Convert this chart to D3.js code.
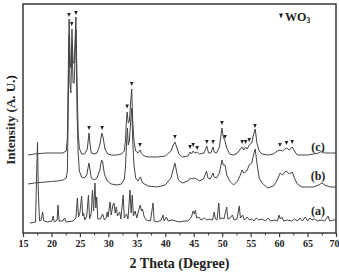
<!DOCTYPE html>
<html><head><meta charset="utf-8">
<script src="https://cdn.jsdelivr.net/npm/d3@7"></script>
<style>html,body{margin:0;padding:0;background:#fff;}svg{display:block;}</style>
</head><body>
<svg id="chart" width="339" height="273"></svg>
<script>
// ---- data (2θ in degrees, intensity in arbitrary units) ----
const curveA = [[16.2,10],[16.8,10.5],[17.2,11],[17.4,60],[17.55,91],[17.7,40],[17.9,12],[18.2,13],[18.45,21],[18.65,12],[19.3,11],[20.1,12],[20.3,17],[20.5,11],[21.0,13],[21.15,28],[21.35,12],[22.0,12],[22.3,15],[22.6,11],[23.8,12],[24.3,15],[24.55,35],[24.75,16],[25.0,20],[25.3,37],[25.5,17],[25.65,20],[25.85,13],[26.2,17],[26.5,38],[26.7,14],[27.0,20],[27.2,43],[27.4,22],[27.65,50],[27.8,25],[27.95,36],[28.15,14],[28.6,14],[29.0,19],[29.3,13],[29.6,15],[29.8,21],[29.95,16],[30.3,31],[30.5,18],[30.8,28],[31.0,30],[31.2,20],[31.4,26],[31.6,17],[32.0,21],[32.2,14],[32.6,38],[32.8,15],[33.2,19],[33.45,14],[33.8,43],[34.0,20],[34.2,38],[34.4,17],[34.7,22],[35.0,15],[35.4,24],[35.6,28],[35.8,22],[36.0,24],[36.3,16],[36.7,13],[37.4,12],[37.85,30],[38.05,12],[38.6,11],[39.3,13],[39.6,18],[39.8,12],[40.2,16],[40.5,12],[41.2,13],[41.8,12],[42.5,11],[43.3,12],[44.0,12],[44.6,16],[44.9,22],[45.1,19],[45.3,23],[45.5,15],[45.9,16],[46.3,13],[46.9,15],[47.3,13],[47.8,14],[48.3,13],[48.6,21],[48.8,14],[49.1,13],[49.4,30],[49.6,14],[50.0,15],[50.3,14],[50.8,26],[51.0,14],[51.4,15],[51.8,18],[52.1,13],[52.6,14],[53.0,27],[53.2,15],[53.6,18],[53.9,13],[54.4,16],[54.8,13],[55.2,14],[55.6,12],[56.0,15],[56.4,13],[57.0,14],[57.6,12],[58.1,15],[58.5,12],[59.2,13],[59.7,12],[60.0,18],[60.2,14],[60.5,16],[60.8,12],[61.5,13],[62.2,12],[62.7,14],[63.2,12],[63.7,15],[64.1,12],[64.6,16],[65.0,12],[65.4,15],[65.8,13],[66.2,14],[66.8,12],[67.4,13],[68.0,12],[68.6,17],[68.9,12],[69.5,13],[70.0,13]];

const curveB = [[15.9,49],[17.0,50],[18.0,50.5],[19.0,51],[20.0,51.5],[21.0,52],[22.0,53],[22.6,55],[22.8,62],[22.95,120],[23.1,198],[23.25,150],[23.4,140],[23.6,188],[23.8,150],[24.0,150],[24.3,203],[24.5,120],[24.7,80],[24.9,62],[25.3,56],[25.8,55],[26.2,58],[26.45,66],[26.6,70],[26.75,64],[27.0,55],[27.5,53],[28.0,55],[28.5,63],[28.8,73],[29.0,71],[29.3,59],[29.8,52],[30.5,49],[31.5,48],[32.3,49],[32.8,54],[33.0,65],[33.2,90],[33.35,105],[33.5,88],[33.7,92],[33.9,110],[34.1,125],[34.3,90],[34.5,68],[34.8,55],[35.2,52],[35.5,55],[35.65,56],[36.0,50],[37.0,47],[38.6,46],[40.0,48],[41.0,55],[41.5,66],[41.7,70],[41.9,64],[42.3,53],[43.0,50],[44.0,52],[44.4,55],[44.7,54],[45.0,55],[45.5,54],[46.0,52],[46.7,54],[47.0,58],[47.25,62],[47.5,55],[47.9,54],[48.4,60],[48.6,56],[49.0,55],[49.5,60],[49.8,68],[49.95,73],[50.2,68],[50.5,68],[50.8,58],[51.3,52],[52.0,48],[52.7,52],[53.2,58],[53.5,63],[53.8,60],[54.1,61],[54.4,63],[54.75,68],[55.2,70],[55.5,78],[55.8,84],[56.1,70],[56.5,55],[57.0,50],[58.0,45],[59.0,47],[59.6,52],[60.2,60],[60.6,58],[61.0,61],[61.3,62],[61.8,59],[62.3,61],[62.7,55],[63.2,49],[64.0,46],[65.0,46],[66.0,46],[67.0,48],[67.5,50],[68.0,48],[69.0,46],[70.0,46]];

const curveC = [[15.9,78],[17.0,79],[18.0,79.5],[19.0,80],[20.0,80],[21.0,80],[22.0,80],[22.6,82],[22.8,95],[22.95,160],[23.1,214],[23.3,170],[23.45,165],[23.6,204],[23.8,170],[24.0,170],[24.3,216],[24.5,150],[24.7,100],[24.9,85],[25.3,79],[25.8,79],[26.3,84],[26.5,95],[26.6,100],[26.75,90],[27.0,80],[27.5,79],[28.0,80],[28.5,88],[28.85,100],[29.1,95],[29.4,84],[29.9,79],[30.5,78],[31.5,78],[32.3,79],[32.8,82],[33.0,92],[33.15,110],[33.3,121],[33.5,110],[33.7,112],[33.9,130],[34.1,144],[34.3,110],[34.5,92],[34.8,82],[35.2,80],[35.45,82],[35.6,83],[35.8,80],[36.3,77],[37.0,76],[38.6,76],[40.0,77],[41.0,82],[41.4,88],[41.7,91],[42.0,86],[42.4,79],[43.0,76],[44.0,77],[44.35,81],[44.6,79],[44.9,82],[45.2,80],[45.6,81],[46.0,79],[46.8,80],[47.1,84],[47.3,87],[47.6,80],[48.0,80],[48.4,86],[48.6,81],[49.0,80],[49.5,86],[49.8,98],[49.95,105],[50.2,96],[50.5,92],[50.8,85],[51.3,79],[52.0,78],[52.7,80],[53.2,84],[53.5,86],[53.8,83],[54.1,86],[54.4,84],[54.75,88],[55.2,90],[55.5,98],[55.8,104],[56.1,90],[56.5,82],[57.0,79],[58.0,78],[59.0,79],[59.7,82],[60.15,83],[60.6,82],[61.0,84],[61.3,85],[61.8,83],[62.3,86],[62.7,82],[63.2,78],[64.0,78],[65.0,78],[66.0,79],[67.0,80],[67.5,82],[68.0,80],[69.0,80],[70.0,80]];

// WO3 reflection markers: [2θ, intensity level of marker]
const markersWO3 = [[23.08,218],[23.56,209],[24.3,220],[26.6,105],[28.9,105],[33.3,126.5],[34.1,149],[35.56,88],[41.7,96],[44.35,86],[44.9,88],[45.6,85],[47.3,91],[48.4,91],[49.96,110],[50.5,96],[53.5,91],[54.1,91],[54.75,93],[55.76,107],[60.15,88],[61.3,90],[62.3,91]];

const seriesNames = ["(a)", "(b)", "(c)"];
const seriesLabelLevel = [22, 57, 86]; // intensity level of each label
const xTicks = [15,20,25,30,35,40,45,50,55,60,65,70];
const xMinorTicks = [17.5,22.5,27.5,32.5,37.5,42.5,47.5,52.5,57.5,62.5,67.5];
const xTitle = "2 Theta (Degree)";
const yTitle = "Intensity (A. U.)";
const legendText = "WO";
const legendSub = "3";

// ---- drawing ----
const svg = d3.select("#chart");
const L = 23, R = 336, T = 4, B = 233;
const x = d3.scaleLinear().domain([15,70]).range([L,R]);
const y = d3.scaleLinear().domain([0,229]).range([B,T]);
const ink = "#3a3a3a";
const font = "'Liberation Serif','Times New Roman',serif";

const line = d3.line().x(d=>x(d[0])).y(d=>y(d[1]));
[curveA, curveB, curveC].forEach(c=>{
  svg.append("path").datum(c).attr("d", line)
    .attr("fill","none").attr("stroke","#444").attr("stroke-width",1)
    .attr("stroke-linejoin","round");
});

// markers (inverted triangles)
svg.append("g").selectAll("path").data(markersWO3).join("path")
  .attr("d", d=>{const cx=x(d[0]), cy=y(d[1]); return `M${cx-1.8},${cy-2}L${cx+1.8},${cy-2}L${cx},${cy+2}Z`;})
  .attr("fill","#222");

// frame
svg.append("rect").attr("x",L).attr("y",T).attr("width",R-L).attr("height",B-T)
  .attr("fill","none").attr("stroke",ink).attr("stroke-width",1.5);

// x axis
const xAxis = d3.axisBottom(x).tickValues(xTicks).tickSize(4).tickFormat(d3.format("d"));
const gx = svg.append("g").attr("transform",`translate(0,${B})`).call(xAxis);
gx.select(".domain").remove();
gx.selectAll(".tick line").attr("stroke",ink).attr("stroke-width",1.2);
gx.selectAll(".tick text").attr("font-family",font).attr("font-weight","bold")
  .attr("font-size",10).attr("fill","#222").attr("dy","0.9em").attr("y",5)
  .attr("text-anchor", d=> d===70 ? "end" : "middle")
  .attr("dx", d=> d===70 ? 3 : 0);
const gm = svg.append("g").attr("transform",`translate(0,${B})`)
  .call(d3.axisBottom(x).tickValues(xMinorTicks).tickSize(2.5).tickFormat(""));
gm.select(".domain").remove();
gm.selectAll(".tick line").attr("stroke",ink).attr("stroke-width",1);

// titles
svg.append("text").attr("x",(L+R)/2+0).attr("y",268).attr("text-anchor","middle")
  .attr("font-family",font).attr("font-weight","bold").attr("font-size",14).attr("fill","#222").text(xTitle);
svg.append("text").attr("transform","translate(15,120) rotate(-90)").attr("text-anchor","middle")
  .attr("font-family",font).attr("font-weight","bold").attr("font-size",13).attr("fill","#222").text(yTitle);

// series labels
svg.append("g").selectAll("text").data(seriesNames).join("text")
  .attr("x",318).attr("y",(d,i)=>y(seriesLabelLevel[i])+4).attr("text-anchor","middle")
  .attr("font-family",font).attr("font-weight","bold").attr("font-size",12).attr("fill","#222")
  .text(d=>d);

// legend
const lg = svg.append("g").attr("transform","translate(281,16)");
lg.append("path").attr("d","M-2,-2.5L2,-2.5L0,2.5Z").attr("fill","#222");
const lt = lg.append("text").attr("x",4).attr("y",4.5)
  .attr("font-family",font).attr("font-weight","bold").attr("font-size",12).attr("fill","#222");
lt.append("tspan").text(legendText);
lt.append("tspan").attr("font-size",8).attr("dy",2.5).text(legendSub);
</script>
</body></html>
